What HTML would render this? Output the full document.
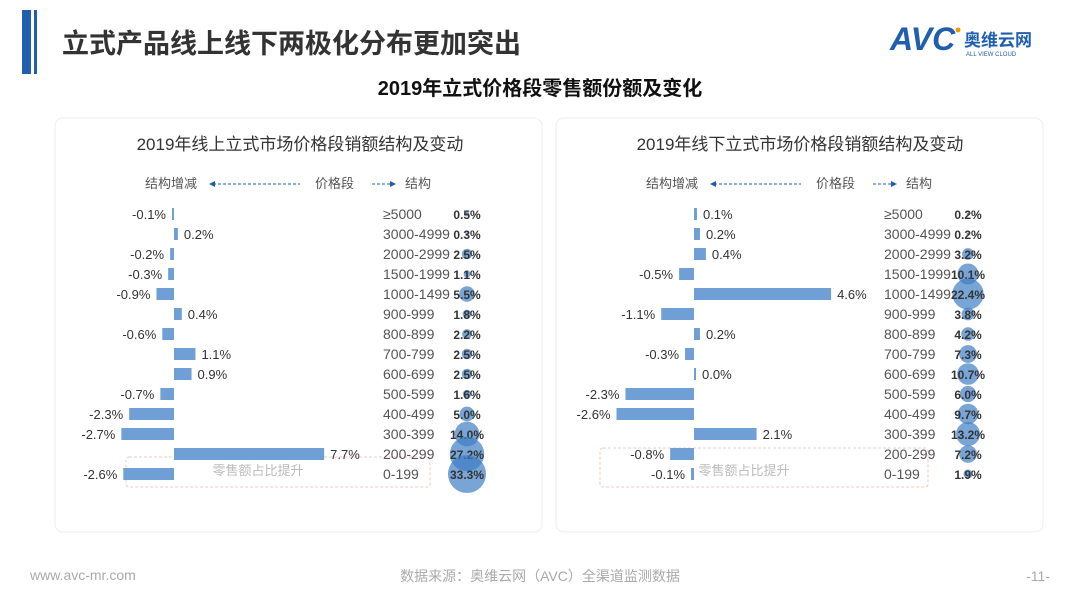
<!DOCTYPE html>
<html><head><meta charset="utf-8">
<style>
html,body{margin:0;padding:0;background:#fff;}
body{width:1080px;height:608px;overflow:hidden;font-family:"Liberation Sans","Noto Sans CJK SC",sans-serif;}
</style></head>
<body>
<svg id="s" width="1080" height="608" viewBox="0 0 1080 608" xmlns="http://www.w3.org/2000/svg" font-family="Liberation Sans, Noto Sans CJK SC, sans-serif">
<rect x="22" y="10" width="9" height="64" fill="#1f5fae"/>
<rect x="34" y="10" width="3" height="64" fill="#1f5fae"/>
<text x="62" y="53" font-size="27" font-weight="bold" fill="#333">立式产品线上线下两极化分布更加突出</text>
<text x="890" y="50" font-size="32" font-weight="bold" fill="#1f5fae" font-style="italic">AVC</text>
<circle cx="958" cy="30" r="2.5" fill="#f39800"/>
<text x="964" y="46" font-size="17" font-weight="bold" fill="#1f5fae">奥维云网</text>
<text x="966" y="56" font-size="6" fill="#1f5fae">ALL VIEW CLOUD</text>
<text x="540" y="95" text-anchor="middle" font-size="20" font-weight="bold" fill="#111">2019年立式价格段零售额份额及变化</text>
<rect x="55" y="118" width="487" height="414" rx="8" fill="none" stroke="#eee"/>
<rect x="556" y="118" width="487" height="414" rx="8" fill="none" stroke="#eee"/>
<text x="300" y="150" text-anchor="middle" font-size="17" fill="#333">2019年线上立式市场价格段销额结构及变动</text>
<text x="800" y="150" text-anchor="middle" font-size="17" fill="#333">2019年线下立式市场价格段销额结构及变动</text>
<g id="g"></g>
<text x="30" y="580" font-size="14" fill="#aaa">www.avc-mr.com</text>
<text x="540" y="581" text-anchor="middle" font-size="14" fill="#aaa">数据来源：奥维云网（AVC）全渠道监测数据</text>
<text x="1050" y="581" text-anchor="end" font-size="14" fill="#aaa">-11-</text>
</svg>
<script>
var g=document.getElementById('g');var h='';
var prices=['≥5000','3000-4999','2000-2999','1500-1999','1000-1499','900-999','800-899','700-799','600-699','500-599','400-499','300-399','200-299','0-199'];
function panel(z,ppp,px,bx,ch,sh,box,hx){
 h+='<text x="'+hx+'" y="188" font-size="13" fill="#555">结构增减</text>';
 h+='<line x1="'+(hx+68)+'" y1="184" x2="'+(hx+155)+'" y2="184" stroke="#1f5fae" stroke-dasharray="3,2"/>';
 h+='<polygon points="'+(hx+64)+',184 '+(hx+70)+',181 '+(hx+70)+',187" fill="#1f5fae"/>';
 h+='<text x="'+(hx+170)+'" y="188" font-size="13" fill="#555">价格段</text>';
 h+='<line x1="'+(hx+227)+'" y1="184" x2="'+(hx+246)+'" y2="184" stroke="#1f5fae" stroke-dasharray="3,2"/>';
 h+='<polygon points="'+(hx+251)+',184 '+(hx+245)+',181 '+(hx+245)+',187" fill="#1f5fae"/>';
 h+='<text x="'+(hx+260)+'" y="188" font-size="13" fill="#555">结构</text>';
 h+='<rect x="'+box[0]+'" y="'+box[1]+'" width="'+box[2]+'" height="'+box[3]+'" fill="none" stroke="#f3c9bd" stroke-dasharray="3,2" rx="3"/>';
 h+='<text x="'+(box[0]+box[2]/2-20)+'" y="'+(box[1]+box[3]-12)+'" text-anchor="middle" font-size="13" fill="#bbb">零售额占比提升</text>';
 for(var i=0;i<14;i++){
  var y=214+i*20, v=ch[i], w=Math.max(Math.abs(v)*ppp,2);
  var x=v<0?z-w:z;
  h+='<rect x="'+x+'" y="'+(y-6)+'" width="'+w+'" height="12" fill="#6f9fd4"/>';
  var lab=v.toFixed(1)+'%';
  if(v<0) h+='<text x="'+(x-6)+'" y="'+(y+5)+'" text-anchor="end" font-size="13" fill="#333">'+lab+'</text>';
  else h+='<text x="'+(x+w+6)+'" y="'+(y+5)+'" font-size="13" fill="#333">'+lab+'</text>';
  h+='<text x="'+px+'" y="'+(y+5)+'" font-size="14" fill="#555">'+prices[i]+'</text>';
  var r=3.3*Math.sqrt(sh[i]);
  h+='<circle cx="'+bx+'" cy="'+y+'" r="'+r+'" fill="#3f7dc4" fill-opacity="0.7"/>';
  h+='<text x="'+bx+'" y="'+(y+5)+'" text-anchor="middle" font-size="12" font-weight="bold" fill="#333">'+sh[i].toFixed(1)+'%</text>';
 }
}
panel(174,19.5,383,467,[-0.1,0.2,-0.2,-0.3,-0.9,0.4,-0.6,1.1,0.9,-0.7,-2.3,-2.7,7.7,-2.6],
 [0.5,0.3,2.5,1.1,5.5,1.8,2.2,2.5,2.5,1.6,5.0,14.0,27.2,33.3],[126,457,304,30],145);
panel(694,29.8,884,968,[0.1,0.2,0.4,-0.5,4.6,-1.1,0.2,-0.3,0.0,-2.3,-2.6,2.1,-0.8,-0.1],
 [0.2,0.2,3.2,10.1,22.4,3.8,4.2,7.3,10.7,6.0,9.7,13.2,7.2,1.9],[600,448,328,39],646);
g.innerHTML=h;
</script>
</body></html>
